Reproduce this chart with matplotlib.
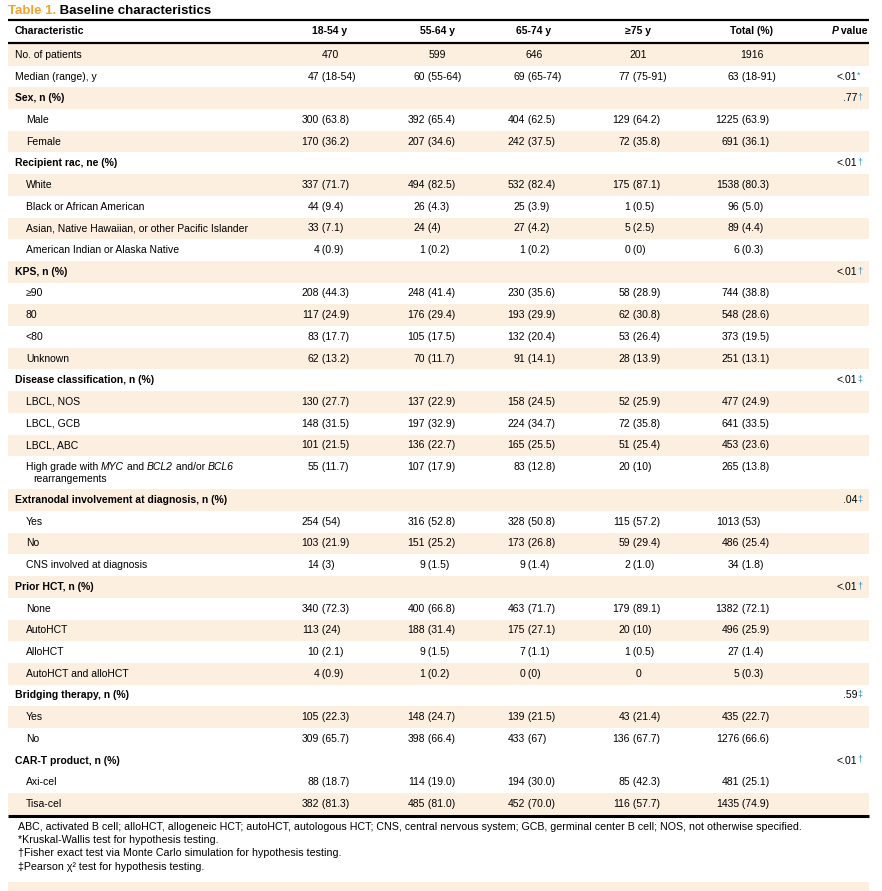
import matplotlib.pyplot as plt

plt.rcParams['font.family'] = ['Liberation Sans', 'DejaVu Sans']

# ---- table content ----
col_headers = ["18-54 y", "55-64 y", "65-74 y", "\u226575 y", "Total (%)"]

row_labels = [
    "No. of patients", "Median (range), y",
    "Sex, n (%)", "Male", "Female",
    "Recipient rac, ne (%)", "White", "Black or African American",
    "Asian, Native Hawaiian, or other Pacific Islander", "American Indian or Alaska Native",
    "KPS, n (%)", "\u226590", "80", "<80", "Unknown",
    "Disease classification, n (%)", "LBCL, NOS", "LBCL, GCB", "LBCL, ABC",
    "HIGH_GRADE",
    "Extranodal involvement at diagnosis, n (%)", "Yes", "No", "CNS involved at diagnosis",
    "Prior HCT, n (%)", "None", "AutoHCT", "AlloHCT", "AutoHCT and alloHCT",
    "Bridging therapy, n (%)", "Yes", "No",
    "CAR-T product, n (%)", "Axi-cel", "Tisa-cel",
]
row_kind = [
    "main", "main",
    "group", "sub", "sub",
    "group", "sub", "sub", "sub", "sub",
    "group", "sub", "sub", "sub", "sub",
    "group", "sub", "sub", "sub", "sub",
    "group", "sub", "sub", "sub",
    "group", "sub", "sub", "sub", "sub",
    "group", "sub", "sub",
    "group", "sub", "sub",
]
age_18_54 = ["470", "47 (18-54)", "", "300 (63.8)", "170 (36.2)",
             "", "337 (71.7)", "44 (9.4)", "33 (7.1)", "4 (0.9)",
             "", "208 (44.3)", "117 (24.9)", "83 (17.7)", "62 (13.2)",
             "", "130 (27.7)", "148 (31.5)", "101 (21.5)", "55 (11.7)",
             "", "254 (54)", "103 (21.9)", "14 (3)",
             "", "340 (72.3)", "113 (24)", "10 (2.1)", "4 (0.9)",
             "", "105 (22.3)", "309 (65.7)",
             "", "88 (18.7)", "382 (81.3)"]
age_55_64 = ["599", "60 (55-64)", "", "392 (65.4)", "207 (34.6)",
             "", "494 (82.5)", "26 (4.3)", "24 (4)", "1 (0.2)",
             "", "248 (41.4)", "176 (29.4)", "105 (17.5)", "70 (11.7)",
             "", "137 (22.9)", "197 (32.9)", "136 (22.7)", "107 (17.9)",
             "", "316 (52.8)", "151 (25.2)", "9 (1.5)",
             "", "400 (66.8)", "188 (31.4)", "9 (1.5)", "1 (0.2)",
             "", "148 (24.7)", "398 (66.4)",
             "", "114 (19.0)", "485 (81.0)"]
age_65_74 = ["646", "69 (65-74)", "", "404 (62.5)", "242 (37.5)",
             "", "532 (82.4)", "25 (3.9)", "27 (4.2)", "1 (0.2)",
             "", "230 (35.6)", "193 (29.9)", "132 (20.4)", "91 (14.1)",
             "", "158 (24.5)", "224 (34.7)", "165 (25.5)", "83 (12.8)",
             "", "328 (50.8)", "173 (26.8)", "9 (1.4)",
             "", "463 (71.7)", "175 (27.1)", "7 (1.1)", "0 (0)",
             "", "139 (21.5)", "433 (67)",
             "", "194 (30.0)", "452 (70.0)"]
age_75_plus = ["201", "77 (75-91)", "", "129 (64.2)", "72 (35.8)",
               "", "175 (87.1)", "1 (0.5)", "5 (2.5)", "0 (0)",
               "", "58 (28.9)", "62 (30.8)", "53 (26.4)", "28 (13.9)",
               "", "52 (25.9)", "72 (35.8)", "51 (25.4)", "20 (10)",
               "", "115 (57.2)", "59 (29.4)", "2 (1.0)",
               "", "179 (89.1)", "20 (10)", "1 (0.5)", "0",
               "", "43 (21.4)", "136 (67.7)",
               "", "85 (42.3)", "116 (57.7)"]
total = ["1916", "63 (18-91)", "", "1225 (63.9)", "691 (36.1)",
         "", "1538 (80.3)", "96 (5.0)", "89 (4.4)", "6 (0.3)",
         "", "744 (38.8)", "548 (28.6)", "373 (19.5)", "251 (13.1)",
         "", "477 (24.9)", "641 (33.5)", "453 (23.6)", "265 (13.8)",
         "", "1013 (53)", "486 (25.4)", "34 (1.8)",
         "", "1382 (72.1)", "496 (25.9)", "27 (1.4)", "5 (0.3)",
         "", "435 (22.7)", "1276 (66.6)",
         "", "481 (25.1)", "1435 (74.9)"]
p_values = {1: "<.01", 2: ".77", 5: "<.01", 10: "<.01", 15: "<.01",
            20: ".04", 24: "<.01", 29: ".59", 32: "<.01"}
p_marks = {1: "*", 2: "\u2020", 5: "\u2020", 10: "\u2020", 15: "\u2021",
           20: "\u2021", 24: "\u2020", 29: "\u2021", 32: "\u2020"}

footnotes = [
    "ABC, activated B cell; alloHCT, allogeneic HCT; autoHCT, autologous HCT; CNS, central nervous system; "
    "GCB, germinal center B cell; NOS, not otherwise specified.",
    "*Kruskal-Wallis test for hypothesis testing.",
    "\u2020Fisher exact test via Monte Carlo simulation for hypothesis testing.",
    "\u2021Pearson \u03c7\u00b2 test for hypothesis testing.",
]

# ---- layout / style ----
SHADE = "#fdefe0"
BLUE = "#2b8fc8"
ORANGE = "#f3a22c"
FS = 7.5
col_centers = [330, 437, 534, 638, 752]
col_split = [319, 425, 525, 630, 739]
row_h = 21.7
tall_rows = {19: 33}
# CAR-T header and Axi-cel rows stay white in the original
shaded = [i % 2 == 0 for i in range(32)] + [False, False, True]

fig = plt.figure(figsize=(8.82, 8.91), dpi=100)
ax = fig.add_axes([0, 0, 1, 1])
ax.set_xlim(0, 882)
ax.set_ylim(891, 0)
ax.axis('off')

# title
t = ax.text(8, 10.5, "Table 1.", color=ORANGE, fontsize=9.5, fontweight='bold', ha='left', va='center')
ax.annotate(" Baseline characteristics", xy=(1, 0.5), xycoords=t, fontsize=9.5,
            fontweight='bold', ha='left', va='center', color='black')

# header
ax.plot([8, 869], [20, 20], color='black', lw=1.6, solid_capstyle='butt')
ax.plot([8, 869], [43, 43], color='black', lw=1.6, solid_capstyle='butt')
ax.text(15, 31.5, "Characteristic", fontsize=FS, fontweight='bold', ha='left', va='center')
for cx, h in zip(col_centers, col_headers):
    ax.text(cx, 31.5, h, fontsize=FS, fontweight='bold', ha='center', va='center')
tv = ax.text(868, 31.5, " value", fontsize=FS, fontweight='bold', ha='right', va='center')
ax.annotate("P", xy=(0, 0.5), xycoords=tv, fontsize=FS, fontweight='bold', fontstyle='italic',
            ha='right', va='center')

columns = [age_18_54, age_55_64, age_65_74, age_75_plus, total]

y = 44
for i, label in enumerate(row_labels):
    h = tall_rows.get(i, row_h)
    if shaded[i]:
        ax.add_patch(plt.Rectangle((8, y), 861, h, color=SHADE, lw=0))
    yc = y + 10.8
    kind = row_kind[i]
    if label == "HIGH_GRADE":
        runs = [("High grade with ", 'normal'), ("MYC", 'italic'), (" and ", 'normal'),
                ("BCL2", 'italic'), (" and/or ", 'normal'), ("BCL6", 'italic')]
        tt = ax.text(26, yc, runs[0][0], fontsize=FS, ha='left', va='center')
        for s, st in runs[1:]:
            tt = ax.annotate(s, xy=(1, 0.5), xycoords=tt, fontsize=FS, fontstyle=st,
                             ha='left', va='center')
        ax.text(33, yc + 12, "rearrangements", fontsize=FS, ha='left', va='center')
    else:
        x = 26 if kind == "sub" else 15
        ax.text(x, yc, label, fontsize=FS, ha='left', va='center',
                fontweight='bold' if kind == "group" else 'normal')
    for c, col in enumerate(columns):
        v = col[i]
        if not v:
            continue
        if " (" in v:
            num, rest = v.split(" (", 1)
            ax.text(col_split[c], yc, num, fontsize=FS, ha='right', va='center')
            ax.text(col_split[c], yc, " (" + rest, fontsize=FS, ha='left', va='center')
        else:
            ax.text(col_centers[c], yc, v, fontsize=FS, ha='center', va='center')
    if i in p_values:
        tp = ax.text(857, yc, p_values[i], fontsize=FS, ha='right', va='center')
        ax.annotate(p_marks[i], xy=(1, 0.62), xycoords=tp, fontsize=6.5, color=BLUE,
                    ha='left', va='center')
    y += h

ax.plot([8, 869], [y + 1, y + 1], color='black', lw=2.2, solid_capstyle='butt')

# footnotes
for k, note in enumerate(footnotes):
    ax.text(18, 826.5 + k * 13.5, note, fontsize=7.7, ha='left', va='center')

ax.add_patch(plt.Rectangle((8, 882), 861, 9, color=SHADE, lw=0))

fig.savefig("out.png", dpi=100)
